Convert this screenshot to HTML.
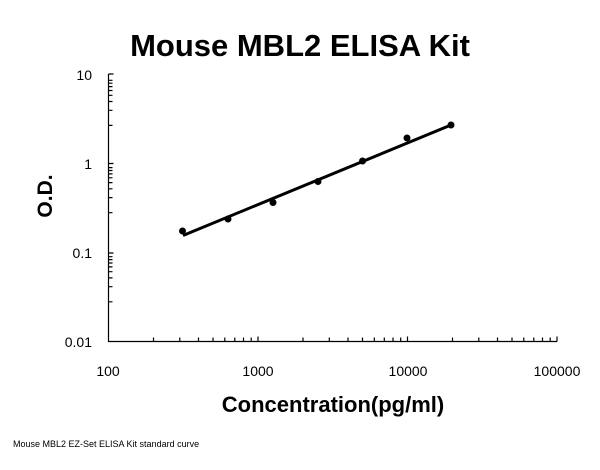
<!DOCTYPE html>
<html><head><meta charset="utf-8"><style>body{margin:0;background:#fff}svg{display:block}</style></head>
<body>
<svg width="600" height="470" viewBox="0 0 600 470" xmlns="http://www.w3.org/2000/svg" font-family="Liberation Sans, Arial, sans-serif">
<rect width="600" height="470" fill="#fff"/>
<text x="300" y="56" text-anchor="middle" font-size="31" font-weight="bold">Mouse MBL2 ELISA Kit</text>
<g stroke="#000" stroke-width="1.2" fill="none">
<path d="M108.5 74 V341.5 H557"/>
<path id="yt" d="
M108.5 74 h5
M108.5 80.3 h4 M108.5 83.2 h4 M108.5 86.6 h4 M108.5 90.5 h4 M108.5 95.3 h4 M108.5 101.5 h4 M108.5 110.3 h4 M108.5 125.4 h4
M108.5 163.5 h5
M108.5 167.6 h4 M108.5 170.5 h4 M108.5 173.9 h4 M108.5 177.8 h4 M108.5 182.6 h4 M108.5 188.8 h4 M108.5 197.6 h4 M108.5 212.7 h4
M108.5 253 h5
M108.5 256.7 h4 M108.5 259.6 h4 M108.5 263 h4 M108.5 266.9 h4 M108.5 271.7 h4 M108.5 277.9 h4 M108.5 286.7 h4 M108.5 301.8 h4"/>
<path d="
M153.5 341.5 v-4 M179.8 341.5 v-4 M198.5 341.5 v-4 M213 341.5 v-4 M224.8 341.5 v-4 M234.8 341.5 v-4 M243.5 341.5 v-4 M251.2 341.5 v-4 M258 341.5 v-5
M303 341.5 v-4 M329.3 341.5 v-4 M348 341.5 v-4 M362.5 341.5 v-4 M374.3 341.5 v-4 M384.3 341.5 v-4 M393 341.5 v-4 M400.7 341.5 v-4 M407.5 341.5 v-5
M452.5 341.5 v-4 M478.8 341.5 v-4 M497.5 341.5 v-4 M512 341.5 v-4 M523.8 341.5 v-4 M533.8 341.5 v-4 M542.5 341.5 v-4 M550.2 341.5 v-4 M557 341.5 v-5"/>
</g>
<line x1="183" y1="235.5" x2="451" y2="125" stroke="#000" stroke-width="3"/>
<g fill="#000">
<circle cx="182.5" cy="231" r="3.5"/><circle cx="228" cy="219" r="3.5"/><circle cx="273" cy="202.5" r="3.5"/>
<circle cx="318" cy="181.5" r="3.5"/><circle cx="362.5" cy="161" r="3.5"/><circle cx="407" cy="138" r="3.5"/><circle cx="451" cy="125" r="3.5"/>
</g>
<g font-size="14" text-anchor="end">
<text x="92" y="80">10</text><text x="92" y="169">1</text><text x="92" y="258">0.1</text><text x="92" y="347">0.01</text>
</g>
<g font-size="14" text-anchor="middle">
<text x="108" y="376">100</text><text x="258" y="376">1000</text><text x="408" y="376">10000</text><text x="557" y="376">100000</text>
</g>
<text x="333" y="412" text-anchor="middle" font-size="22" font-weight="bold">Concentration(pg/ml)</text>
<text transform="translate(52,196) rotate(-90)" text-anchor="middle" font-size="21" font-weight="bold">O.D.</text>
<text x="13" y="447" font-size="9">Mouse MBL2 EZ-Set ELISA Kit standard curve</text>
</svg>
</body></html>
